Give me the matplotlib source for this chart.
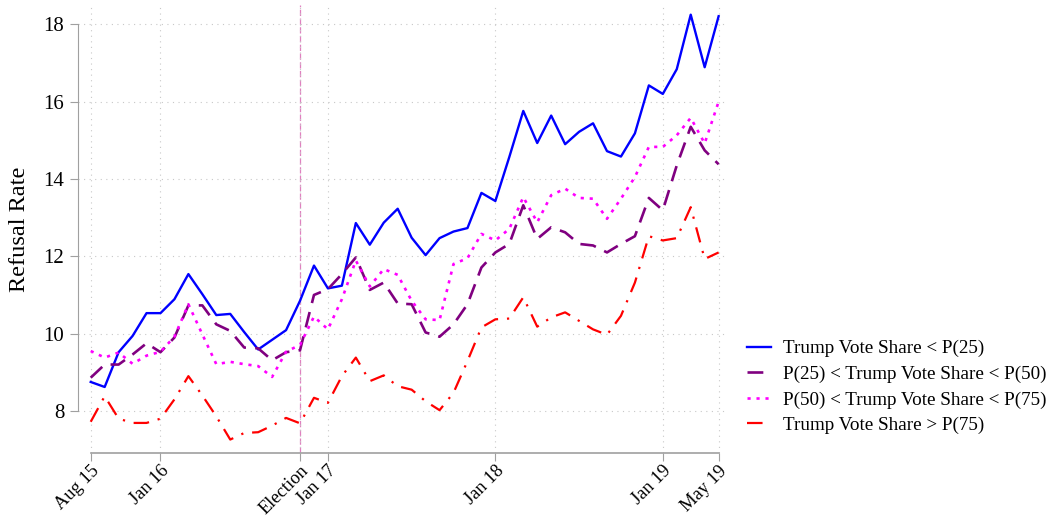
import numpy as np
import pandas as pd
import matplotlib
matplotlib.use('Agg')
import matplotlib.pyplot as plt

plt.rcParams['font.family'] = ['Liberation Serif', 'DejaVu Serif']

# monthly, Aug 2015 .. May 2019
months = pd.date_range('2015-08-01', '2019-05-01', freq='MS')

q1 = [8.75, 8.62, 9.52, 9.94, 10.53, 10.53, 10.89, 11.54, 11.02, 10.48,
      10.51, 10.04, 9.59, 9.84, 10.09, 10.85, 11.76, 11.17, 11.24, 12.86,
      12.30, 12.87, 13.23, 12.48, 12.03, 12.47, 12.64, 12.73, 13.64, 13.43,
      14.57, 15.76, 14.93, 15.64, 14.90, 15.22, 15.44, 14.72, 14.58, 15.18,
      16.42, 16.20, 16.84, 18.25, 16.89, 18.21]
q2 = [8.86, 9.20, 9.20, 9.46, 9.75, 9.52, 9.90, 10.73, 10.73, 10.24,
      10.07, 9.64, 9.62, 9.31, 9.52, 9.57, 11.00, 11.15, 11.54, 11.97,
      11.13, 11.32, 10.78, 10.76, 10.03, 9.92, 10.24, 10.76, 11.71, 12.10,
      12.32, 13.32, 12.45, 12.75, 12.62, 12.32, 12.28, 12.10, 12.32, 12.52,
      13.51, 13.19, 14.35, 15.35, 14.74, 14.38]
q3 = [9.55, 9.38, 9.51, 9.22, 9.43, 9.53, 9.92, 10.76, 9.98, 9.21,
      9.27, 9.21, 9.16, 8.88, 9.53, 9.71, 10.44, 10.11, 10.89, 11.89,
      11.22, 11.67, 11.52, 10.85, 10.37, 10.35, 11.80, 11.95, 12.58, 12.41,
      12.71, 13.53, 12.88, 13.58, 13.75, 13.51, 13.49, 12.97, 13.49, 14.05,
      14.83, 14.83, 15.13, 15.58, 14.92, 16.00]
q4 = [7.72, 8.38, 7.80, 7.69, 7.69, 7.80, 8.30, 8.90, 8.40, 7.86,
      7.26, 7.43, 7.45, 7.62, 7.82, 7.68, 8.34, 8.21, 8.90, 9.38,
      8.77, 8.92, 8.64, 8.55, 8.25, 8.02, 8.47, 9.29, 10.16, 10.37,
      10.39, 10.94, 10.18, 10.42, 10.55, 10.33, 10.11, 9.97, 10.46, 11.32,
      12.52, 12.41, 12.47, 13.27, 11.93, 12.10]

labels = ['Trump Vote Share < P(25)',
          'P(25) < Trump Vote Share < P(50)',
          'P(50) < Trump Vote Share < P(75)',
          'Trump Vote Share > P(75)']

tick_idx = [0, 5, 15, 17, 29, 41, 45]
tick_lab = ['Aug 15', 'Jan 16', 'Election', 'Jan 17', 'Jan 18', 'Jan 19', 'May 19']
election = 15

x = np.arange(len(months))

fig = plt.figure(figsize=(10.52, 5.16), dpi=100)
ax = fig.add_axes([78.3/1052, 1-452.7/516, (727-78.3)/1052, (452.7-5)/516])

ax.plot(x, q1, color='#0000ff', lw=1.7, label=labels[0])
ax.plot(x, q2, color='#800080', lw=1.9, dashes=(6, 3.5), label=labels[1])
ax.plot(x, q3, color='#ff00ff', lw=1.9, dashes=(1.2, 2.2), label=labels[2])
ax.plot(x, q4, color='#ff0000', lw=1.6, dashes=(7, 4, 1, 4), label=labels[3])

ax.axvline(election, color='#e080c0', lw=0.9, dashes=(5, 2), zorder=0)

ax.set_xlim(-0.89, 45.6)
ax.set_ylim(6.92, 18.5)
ax.set_xticks(tick_idx)
ax.set_xticklabels(tick_lab, rotation=45, ha='right', rotation_mode='anchor', fontsize=13.2)
ax.set_yticks(np.arange(8, 19, 2))
ax.tick_params(axis='y', labelsize=15, length=6, color='#a0a0a0', pad=4)
ax.tick_params(axis='x', length=6, color='#a0a0a0', pad=1)

ax.grid(True, color='#c8c8c8', ls=(0, (1, 4)), lw=0.8)
ax.set_axisbelow(True)

for s in ['top', 'right']:
    ax.spines[s].set_visible(False)
ax.spines['left'].set_bounds(8, 18)
ax.spines['bottom'].set_bounds(0, 45)
ax.spines['left'].set_color('#a0a0a0')
ax.spines['bottom'].set_color('#a0a0a0')
ax.spines['bottom'].set_linewidth(1.2)

ax.set_ylabel('Refusal Rate', fontsize=17.5, labelpad=10)

fig.legend(loc='center left', bbox_to_anchor=(730/1052, 1-387/516), frameon=False,
           fontsize=13.8, handlelength=1.25, labelspacing=0.42, handletextpad=0.6)

fig.savefig('out.png', dpi=100)
